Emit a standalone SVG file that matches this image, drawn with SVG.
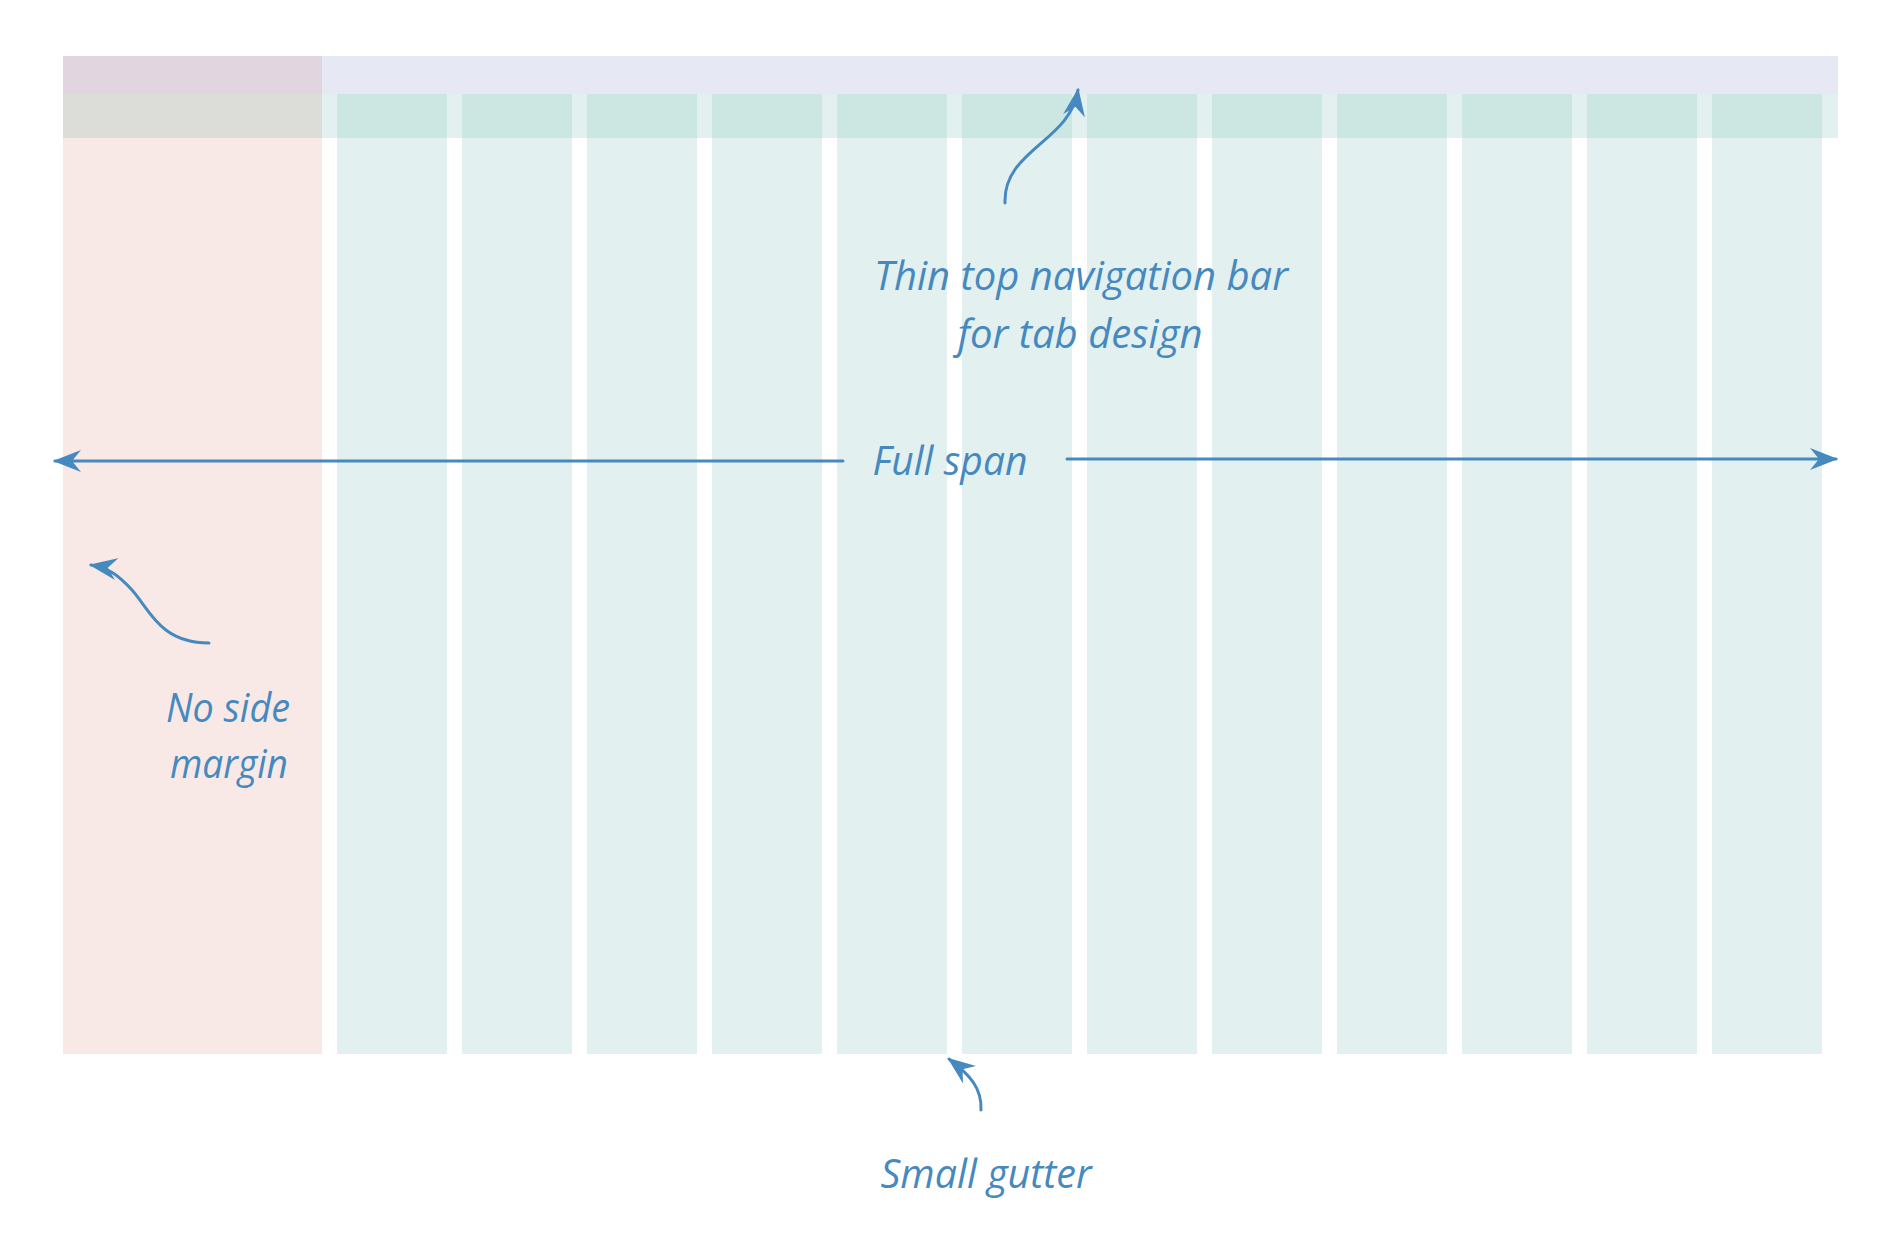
<svg xmlns="http://www.w3.org/2000/svg" width="1878" height="1240" viewBox="0 0 1878 1240">
  <style>
    .col { fill: #e2f0f0; }
    .colband { fill: #cce6e2; }
    .conn { fill: none; stroke: #4689bf; stroke-width: 3; stroke-linecap: round; }
    .lbl { font-family: "Open Sans", "Liberation Sans", sans-serif; font-style: italic; font-size: 40px; fill: #4689bf; text-anchor: middle; }
  </style>
  <defs>
    <marker id="ah" viewBox="0 0 28 22" refX="26" refY="11" markerWidth="28" markerHeight="22" markerUnits="userSpaceOnUse" orient="auto">
      <path d="M28,11 L0,0 L9,11 L0,22 Z" fill="#4689bf"/>
    </marker>
  </defs>
  <rect width="1878" height="1240" fill="#ffffff"/>

  <g id="side-margin">
    <rect x="63" y="56" width="259" height="998" fill="#f8e9e7"/>
    <rect x="63" y="56" width="259" height="38" fill="#e1d6df"/>
    <rect x="63" y="94" width="259" height="44" fill="#dcdcd8"/>
  </g>

  <g id="nav-bar">
    <rect x="322" y="56" width="1516" height="38" fill="#e6e9f4"/>
    <rect x="322" y="94" width="1516" height="44" fill="#e2f0ef"/>
  </g>

  <g id="columns">
    <g id="col-1"><rect class="col" x="337" y="94" width="110" height="960"/><rect class="colband" x="337" y="94" width="110" height="44"/></g>
    <g id="col-2"><rect class="col" x="462" y="94" width="110" height="960"/><rect class="colband" x="462" y="94" width="110" height="44"/></g>
    <g id="col-3"><rect class="col" x="587" y="94" width="110" height="960"/><rect class="colband" x="587" y="94" width="110" height="44"/></g>
    <g id="col-4"><rect class="col" x="712" y="94" width="110" height="960"/><rect class="colband" x="712" y="94" width="110" height="44"/></g>
    <g id="col-5"><rect class="col" x="837" y="94" width="110" height="960"/><rect class="colband" x="837" y="94" width="110" height="44"/></g>
    <g id="col-6"><rect class="col" x="962" y="94" width="110" height="960"/><rect class="colband" x="962" y="94" width="110" height="44"/></g>
    <g id="col-7"><rect class="col" x="1087" y="94" width="110" height="960"/><rect class="colband" x="1087" y="94" width="110" height="44"/></g>
    <g id="col-8"><rect class="col" x="1212" y="94" width="110" height="960"/><rect class="colband" x="1212" y="94" width="110" height="44"/></g>
    <g id="col-9"><rect class="col" x="1337" y="94" width="110" height="960"/><rect class="colband" x="1337" y="94" width="110" height="44"/></g>
    <g id="col-10"><rect class="col" x="1462" y="94" width="110" height="960"/><rect class="colband" x="1462" y="94" width="110" height="44"/></g>
    <g id="col-11"><rect class="col" x="1587" y="94" width="110" height="960"/><rect class="colband" x="1587" y="94" width="110" height="44"/></g>
    <g id="col-12"><rect class="col" x="1712" y="94" width="110" height="960"/><rect class="colband" x="1712" y="94" width="110" height="44"/></g>
  </g>

  <g id="connectors">
    <path class="conn" d="M843,461 L55,461" marker-end="url(#ah)"/>
    <path class="conn" d="M1067,459 L1836,459" marker-end="url(#ah)"/>
    <path class="conn" d="M1005,203 C1003,150 1070,142 1078,90" marker-end="url(#ah)"/>
    <path class="conn" d="M209,643 C160,643 150,610 132,590 C120,577 110,568 91,565" marker-end="url(#ah)"/>
    <path class="conn" d="M981,1110 C982,1088 970,1075 949,1059" marker-end="url(#ah)"/>
  </g>

  <g id="labels">
    <text class="lbl" x="950" y="475" textLength="155" lengthAdjust="spacingAndGlyphs">Full span</text>
    <text class="lbl" x="1081" y="290" textLength="414" lengthAdjust="spacingAndGlyphs">Thin top navigation bar</text>
    <text class="lbl" x="1080" y="348" textLength="245" lengthAdjust="spacingAndGlyphs">for tab design</text>
    <text class="lbl" x="228" y="722" textLength="124" lengthAdjust="spacingAndGlyphs">No side</text>
    <text class="lbl" x="229" y="778" textLength="118" lengthAdjust="spacingAndGlyphs">margin</text>
    <text class="lbl" x="986" y="1188" textLength="211" lengthAdjust="spacingAndGlyphs">Small gutter</text>
  </g>
</svg>
